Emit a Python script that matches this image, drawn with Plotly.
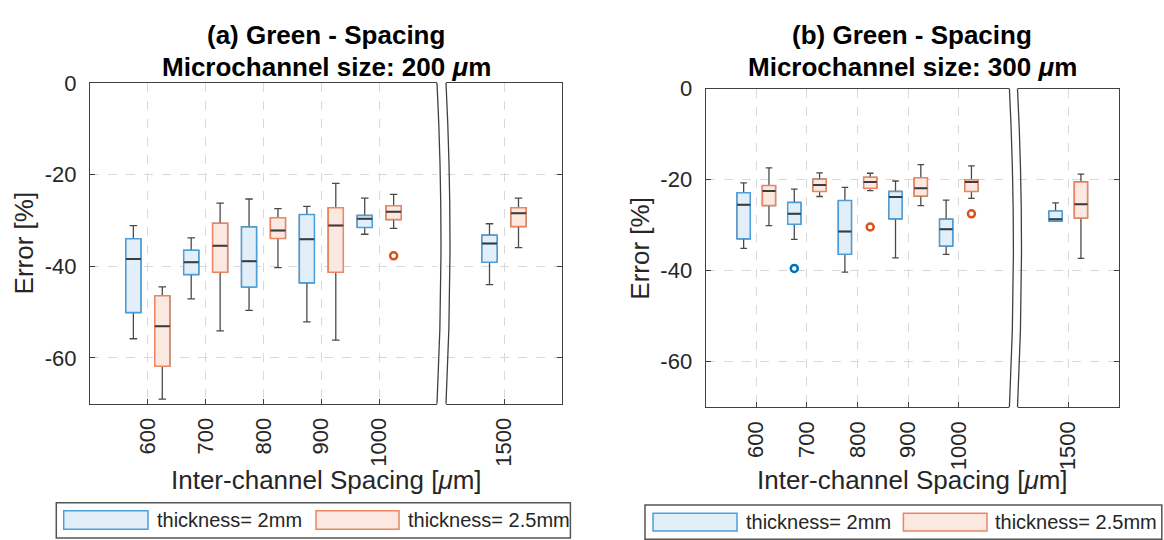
import plotly.graph_objects as go

# ---------------- data ----------------
SPACING_MAIN = [600, 700, 800, 900, 1000]
SPACING_BREAK = [1500]
SPACING = SPACING_MAIN + SPACING_BREAK
TICK_LABELS = ["600", "700", "800", "900", "1000", "1500"]
Y_TICKS = [-60, -40, -20, 0]
Y_TICK_LABELS = ["-60", "-40", "-20", "0"]

# Panel (a): microchannel 200 um
A_2MM_UPPER = [-31.1, -33.8, -25.3, -26.9, -25.1, -30.7]
A_2MM_Q3 = [-34.0, -36.5, -31.4, -28.7, -28.9, -33.2]
A_2MM_MED = [-38.4, -39.1, -38.9, -34.1, -29.6, -35.0]
A_2MM_Q1 = [-50.1, -41.8, -44.5, -43.6, -31.5, -39.1]
A_2MM_LOWER = [-55.8, -47.1, -49.6, -52.1, -33.0, -44.0]

A_25MM_UPPER = [-44.5, -26.2, -27.4, -21.9, -24.3, -25.1]
A_25MM_Q3 = [-46.4, -30.6, -29.4, -27.2, -26.8, -27.2]
A_25MM_MED = [-53.1, -35.5, -32.2, -31.1, -28.1, -28.4]
A_25MM_Q1 = [-61.8, -41.3, -33.9, -41.3, -29.8, -31.3]
A_25MM_LOWER = [-69.0, -54.1, -40.3, -56.1, -31.7, -35.9]

A_2MM_OUT_X, A_2MM_OUT_Y = [], []
A_25MM_OUT_X, A_25MM_OUT_Y = [1000], [-37.7]

# Panel (b): microchannel 300 um
B_2MM_UPPER = [-20.7, -22.1, -21.7, -20.3, -24.5, -25.1]
B_2MM_Q3 = [-22.9, -25.0, -24.6, -22.6, -28.7, -26.9]
B_2MM_MED = [-25.5, -27.5, -31.4, -23.8, -30.9, -28.7]
B_2MM_Q1 = [-33.0, -29.8, -36.4, -28.6, -34.6, -29.1]
B_2MM_LOWER = [-35.1, -33.1, -40.3, -37.2, -36.4, -29.1]

B_25MM_UPPER = [-17.4, -18.5, -18.6, -16.7, -17.0, -18.8]
B_25MM_Q3 = [-21.3, -19.9, -19.5, -19.6, -20.0, -20.5]
B_25MM_MED = [-22.5, -21.2, -20.5, -21.9, -20.5, -25.4]
B_25MM_Q1 = [-25.7, -22.6, -21.9, -23.6, -22.6, -28.4]
B_25MM_LOWER = [-30.1, -23.7, -22.4, -25.7, -24.1, -37.3]

B_2MM_OUT_X, B_2MM_OUT_Y = [700], [-39.5]
B_25MM_OUT_X, B_25MM_OUT_Y = [800, 1000], [-30.4, -27.5]

SERIES_NAMES = ["thickness= 2mm", "thickness= 2.5mm"]

# ---------------- style ----------------
W, H = 1164, 540
FONT = "Liberation Sans, Arial, Helvetica, sans-serif"
BLUE_EDGE, BLUE_FILL, BLUE_OUT = "#4C9FDB", "#E2EEF8", "#0072BD"
ORANGE_EDGE, ORANGE_FILL, ORANGE_OUT = "#EA8560", "#FBE8E0", "#D95319"
WHISKER = "#4A4A4A"
MEDIAN = "#3C3C3C"
AXIS = "#404040"
GRID = "#D9D9D9"
TICK_COLOR = "#262626"
GROUP_OFFSET = 25
BOX_WIDTH = 26


def px(x):
    return x / W


def py(y):
    return 1 - y / H


# panel geometry in pixels
PANELS = {
    "a": dict(mx0=90, mx1=437, bx0=446, bx1=562, yt=72.7, yb=400.7, axes=("", "2")),
    "b": dict(mx0=705.7, mx1=1009.4, bx0=1017.5, bx1=1119, yt=78.3, yb=404.3, axes=("3", "4")),
}

fig = go.Figure()


def add_boxes(xref, yref, xs, low, q1, med, q3, up, edge, fill):
    # whiskers (dark grey) with caps
    fig.add_trace(go.Box(
        x=xs, q1=q1, median=med, q3=q3, lowerfence=low, upperfence=up,
        width=BOX_WIDTH, whiskerwidth=0.5, fillcolor="rgba(0,0,0,0)",
        line=dict(color=WHISKER, width=1.3), boxpoints=False,
        xaxis=xref, yaxis=yref, showlegend=False, hoverinfo="skip"))
    # coloured box
    fig.add_trace(go.Box(
        x=xs, q1=q1, median=med, q3=q3, lowerfence=q1, upperfence=q3,
        width=BOX_WIDTH, whiskerwidth=0, fillcolor=fill,
        line=dict(color=edge, width=1.5), boxpoints=False,
        xaxis=xref, yaxis=yref, showlegend=False))
    # median line (dark)
    fig.add_trace(go.Box(
        x=xs, q1=med, median=med, q3=med, lowerfence=med, upperfence=med,
        width=BOX_WIDTH, whiskerwidth=0, fillcolor="rgba(0,0,0,0)",
        line=dict(color=MEDIAN, width=2), boxpoints=False,
        xaxis=xref, yaxis=yref, showlegend=False, hoverinfo="skip"))


def add_panel(key, series):
    p = PANELS[key]
    ax_main, ax_brk = p["axes"]
    n_main = len(SPACING_MAIN)
    for stats, offset, edge, fill, outc, outx, outy in series:
        low, q1, med, q3, up = stats
        xs = [s + offset for s in SPACING]
        add_boxes("x" + ax_main, "y" + ax_main, xs[:n_main], low[:n_main], q1[:n_main],
                  med[:n_main], q3[:n_main], up[:n_main], edge, fill)
        add_boxes("x" + ax_brk, "y" + ax_brk, xs[n_main:], low[n_main:], q1[n_main:],
                  med[n_main:], q3[n_main:], up[n_main:], edge, fill)
        if outx:
            fig.add_trace(go.Scatter(
                x=[v + offset for v in outx], y=outy, mode="markers",
                marker=dict(symbol="circle-open", size=7, color=outc, line=dict(width=2.5)),
                xaxis="x" + ax_main, yaxis="y" + ax_main, showlegend=False))

    common_y = dict(range=[-70, 0], tickvals=Y_TICKS, ticktext=Y_TICK_LABELS,
                    showgrid=True, gridcolor=GRID, griddash="dash", gridwidth=1,
                    zeroline=False, showline=True, linecolor=AXIS, linewidth=1.3,
                    ticks="inside", ticklen=5, tickcolor=AXIS, tickwidth=1.2,
                    domain=[py(p["yb"]), py(p["yt"])], fixedrange=True)
    common_x = dict(showgrid=True, gridcolor=GRID, griddash="dash", gridwidth=1,
                    zeroline=False, showline=True, linecolor=AXIS, linewidth=1.3,
                    mirror=True, ticks="inside", ticklen=5, tickcolor=AXIS, tickwidth=1.2,
                    tickangle=-90, ticklabelstandoff=4, fixedrange=True,
                    tickfont=dict(family=FONT, size=22, color=TICK_COLOR))
    ynm = "yaxis" + ax_main
    ybn = "yaxis" + ax_brk
    xnm = "xaxis" + ax_main
    xbn = "xaxis" + ax_brk
    fig.update_layout({
        xnm: dict(common_x, domain=[px(p["mx0"]), px(p["mx1"])], range=[500, 1100],
                  tickvals=SPACING_MAIN, ticktext=TICK_LABELS[:n_main], anchor="y" + ax_main),
        xbn: dict(common_x, domain=[px(p["bx0"]), px(p["bx1"])], range=[1400, 1600],
                  tickvals=SPACING_BREAK, ticktext=TICK_LABELS[n_main:], anchor="y" + ax_brk),
        ynm: dict(common_y, anchor="x" + ax_main, side="left", ticklabelstandoff=8,
                  tickfont=dict(family=FONT, size=22, color=TICK_COLOR)),
        ybn: dict(common_y, anchor="x" + ax_brk, side="right", showticklabels=False,
                  matches="y" + ax_main),
    })

    # axis-break curves
    ym = (p["yt"] + p["yb"]) / 2
    for xb in (p["mx1"], p["bx0"]):
        path = "M {},{} Q {},{} {},{}".format(px(xb), py(p["yt"]), px(xb + 8), py(ym),
                                              px(xb), py(p["yb"]))
        fig.add_shape(type="path", path=path, xref="paper", yref="paper",
                      line=dict(color=AXIS, width=1.3))


add_panel("a", [
    ((A_2MM_LOWER, A_2MM_Q1, A_2MM_MED, A_2MM_Q3, A_2MM_UPPER), -GROUP_OFFSET,
     BLUE_EDGE, BLUE_FILL, BLUE_OUT, A_2MM_OUT_X, A_2MM_OUT_Y),
    ((A_25MM_LOWER, A_25MM_Q1, A_25MM_MED, A_25MM_Q3, A_25MM_UPPER), GROUP_OFFSET,
     ORANGE_EDGE, ORANGE_FILL, ORANGE_OUT, A_25MM_OUT_X, A_25MM_OUT_Y),
])
add_panel("b", [
    ((B_2MM_LOWER, B_2MM_Q1, B_2MM_MED, B_2MM_Q3, B_2MM_UPPER), -GROUP_OFFSET,
     BLUE_EDGE, BLUE_FILL, BLUE_OUT, B_2MM_OUT_X, B_2MM_OUT_Y),
    ((B_25MM_LOWER, B_25MM_Q1, B_25MM_MED, B_25MM_Q3, B_25MM_UPPER), GROUP_OFFSET,
     ORANGE_EDGE, ORANGE_FILL, ORANGE_OUT, B_25MM_OUT_X, B_25MM_OUT_Y),
])

# ---------------- titles and axis labels ----------------
TITLES = {
    "a": ("(a) Green - Spacing", "Microchannel size: 200 <i>μ</i>m"),
    "b": ("(b) Green - Spacing", "Microchannel size: 300 <i>μ</i>m"),
}
X_LABEL = "Inter-channel Spacing [<i>μ</i>m]"
Y_LABEL = "Error [%]"

annotations = []
for key, p in PANELS.items():
    cx = (p["mx0"] + p["bx1"]) / 2
    t1, t2 = TITLES[key]
    annotations.append(dict(x=px(cx), y=py(24), text="<b>" + t1 + "</b>", showarrow=False,
                            xref="paper", yref="paper", xanchor="center", yanchor="middle",
                            font=dict(family=FONT, size=26, color="#000000")))
    annotations.append(dict(x=px(cx), y=py(56), text="<b>" + t2 + "</b>", showarrow=False,
                            xref="paper", yref="paper", xanchor="center", yanchor="middle",
                            font=dict(family=FONT, size=26, color="#000000")))
    annotations.append(dict(x=px(cx), y=py(479), text=X_LABEL, showarrow=False,
                            xref="paper", yref="paper", xanchor="center", yanchor="middle",
                            font=dict(family=FONT, size=26, color=TICK_COLOR)))
    annotations.append(dict(x=px(p["mx0"] - 66), y=py((p["yt"] + p["yb"]) / 2), text=Y_LABEL,
                            textangle=-90, showarrow=False, xref="paper", yref="paper",
                            xanchor="center", yanchor="middle",
                            font=dict(family=FONT, size=26, color=TICK_COLOR)))

# ---------------- legends (drawn) ----------------
LEGENDS = {
    "a": dict(box=(56.3, 502, 570.4, 538), patches=[(63.7, 148), (316, 399)],
              py0=510, py1=529, text_x=[154.8, 406.3]),
    "b": dict(box=(645, 504.3, 1161.8, 539.3), patches=[(653, 737), (903.4, 987)],
              py0=512.7, py1=530.7, text_x=[743.6, 993.4]),
}
for key, lg in LEGENDS.items():
    x0, y0, x1, y1 = lg["box"]
    fig.add_shape(type="rect", xref="paper", yref="paper", x0=px(x0), x1=px(x1),
                  y0=py(y1), y1=py(y0), line=dict(color="#555555", width=1.5),
                  fillcolor="white", layer="below")
    for (a0, a1), edge, fill, tx, name in zip(lg["patches"], [BLUE_EDGE, ORANGE_EDGE],
                                             [BLUE_FILL, ORANGE_FILL], lg["text_x"],
                                             SERIES_NAMES):
        fig.add_shape(type="rect", xref="paper", yref="paper", x0=px(a0), x1=px(a1),
                      y0=py(lg["py1"]), y1=py(lg["py0"]),
                      line=dict(color=edge, width=1.5), fillcolor=fill)
        annotations.append(dict(x=px(tx), y=py((lg["py0"] + lg["py1"]) / 2), text=name,
                                showarrow=False, xref="paper", yref="paper",
                                xanchor="left", yanchor="middle",
                                font=dict(family=FONT, size=20, color=TICK_COLOR)))

fig.update_layout(
    width=W, height=H, margin=dict(l=0, r=0, t=0, b=0),
    paper_bgcolor="white", plot_bgcolor="white",
    boxmode="overlay", showlegend=False,
    annotations=annotations,
    font=dict(family=FONT, color=TICK_COLOR),
)

fig.write_html("out.html", config={"displayModeBar": False},
               post_script="document.body.style.margin='0px';")
